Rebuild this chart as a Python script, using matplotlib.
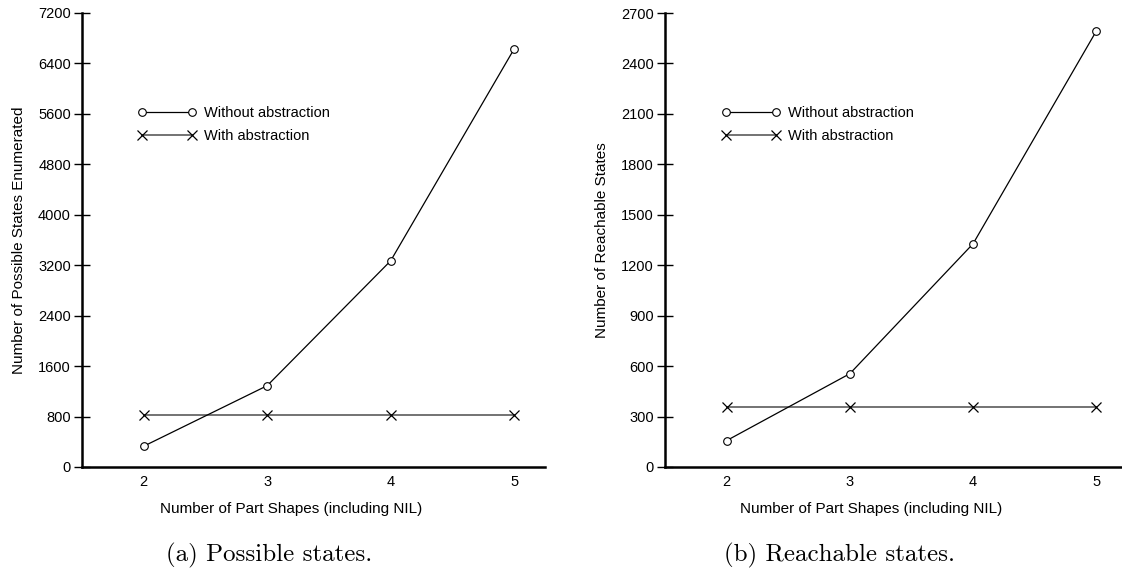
import numpy as np
from matplotlib import pyplot as plt

plt.rcParams['font.family'] = ['Liberation Sans', 'DejaVu Sans']

# data
shapes = [2, 3, 4, 5]
possible_without = [330, 1290, 3270, 6630]
possible_with = [820, 820, 820, 820]
reachable_without = [157, 555, 1328, 2593]
reachable_with = [358, 358, 358, 358]

W, H = 1122, 578
fig = plt.figure(figsize=(W / 100, H / 100), dpi=100)


def px(x0, y0, x1, y1):
    # pixel box (top-left origin) -> figure fraction
    return [x0 / W, 1 - y1 / H, (x1 - x0) / W, (y1 - y0) / H]


def panel(rect, without, with_, ymax, ystep, ylabel, caption, cap_x, leg_xy, xmax):
    ax = fig.add_axes(rect)
    ax.plot(shapes, with_, '-', color='0.45', lw=1.4, marker='x', ms=6.5,
            mec='black', mew=0.9, label='With abstraction')
    ax.plot(shapes, without, '-', color='black', lw=0.9, marker='o', ms=5.5,
            mfc='white', mec='black', mew=0.8, label='Without abstraction')
    ax.set_xlim(1.5, xmax)
    ax.set_ylim(0, ymax)
    ax.set_xticks(shapes)
    ax.set_yticks(np.arange(0, ymax + 1, ystep))
    for s in ['top', 'right']:
        ax.spines[s].set_visible(False)
    for s in ['left', 'bottom']:
        ax.spines[s].set_linewidth(1.8)
    ax.tick_params(axis='y', direction='inout', length=12, width=1.0,
                   labelsize=10.5, pad=2)
    ax.tick_params(axis='x', length=0, labelsize=10.5, pad=6)
    ax.set_xlabel('Number of Part Shapes (including NIL)', fontsize=11,
                  labelpad=6)
    ax.xaxis.set_label_coords(0.451, -0.078)
    ax.set_ylabel(ylabel, fontsize=11, labelpad=9)
    h, l = ax.get_legend_handles_labels()
    ax.legend(h[::-1], l[::-1], loc='upper left', numpoints=2,
              frameon=False, fontsize=10.5, handlelength=4.0,
              handletextpad=0.55, labelspacing=0.6, borderpad=0,
              borderaxespad=0,
              bbox_to_anchor=(leg_xy[0] / W, 1 - leg_xy[1] / H),
              bbox_transform=fig.transFigure)
    fig.text(cap_x / W, 1 - 555 / H, caption,
             family='cmr10', fontsize=18, ha='center', va='center')
    return ax


panel(px(82, 13, 545, 467), possible_without, possible_with, 7200, 800,
      'Number of Possible States Enumerated', '(a) Possible states.', 269,
      (138, 106), 5.25)
panel(px(665, 13, 1121, 467), reachable_without, reachable_with, 2700, 300,
      'Number of Reachable States', '(b) Reachable states.', 840,
      (722, 106), 5.2)

fig.savefig('out.png', dpi=100)
